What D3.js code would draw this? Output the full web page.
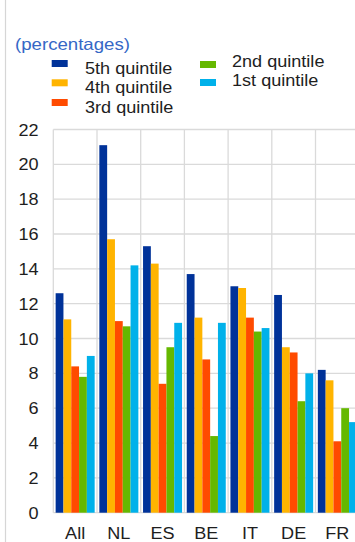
<!DOCTYPE html>
<html>
<head>
<meta charset="utf-8">
<script src="https://cdn.jsdelivr.net/npm/d3@7"></script>
<style>
  html, body { margin: 0; padding: 0; background: #ffffff; }
  svg { display: block; overflow: hidden; }
  text { font-family: "Liberation Sans", Arial, sans-serif; }
</style>
</head>
<body>
<svg id="chart" width="355" height="542"></svg>
<script>
// Countries on the x axis
const categories = ["All", "NL", "ES", "BE", "IT", "DE", "FR"];

// Income quintiles, drawn in this order inside each country group
const seriesNames = ["5th quintile", "4th quintile", "3rd quintile", "2nd quintile", "1st quintile"];
const seriesColors = ["#003299", "#FFB400", "#FF4B00", "#65B800", "#00B1EA"];

// Values per quintile (percentages), one per country
const q5 = [12.6, 21.1, 15.3, 13.7, 13.0, 12.5, 8.2];
const q4 = [11.1, 15.7, 14.3, 11.2, 12.9, 9.5, 7.6];
const q3 = [8.4, 11.0, 7.4, 8.8, 11.2, 9.2, 4.1];
const q2 = [7.8, 10.7, 9.5, 4.4, 10.4, 6.4, 6.0];
const q1 = [9.0, 14.2, 10.9, 10.9, 10.6, 8.0, 5.2];

const yTicks = [0, 2, 4, 6, 8, 10, 12, 14, 16, 18, 20, 22];

const seriesValues = [q5, q4, q3, q2, q1];
const rows = categories.map((c, i) => ({
  category: c,
  values: seriesNames.map((s, k) => ({ key: s, color: seriesColors[k], value: seriesValues[k][i] }))
}));

const svg = d3.select("#chart");
const textColor = "#1e1e1e";
const gridColor = "#dadada";
const sx = 1.13; // horizontal text stretch

// Draws a horizontally widened text label at (x, y)
function label(parent, x, y, str, opts = {}) {
  const g = parent.append("g")
    .attr("transform", `translate(${x},${y}) scale(${opts.sx || sx},1)`);
  g.append("text")
    .attr("x", 0).attr("y", 0)
    .attr("text-anchor", opts.anchor || "start")
    .attr("font-size", opts.size || 16)
    .attr("fill", opts.fill || textColor)
    .text(str);
  return g;
}

// Outer frame line on the left
svg.append("line")
  .attr("x1", 5.5).attr("x2", 5.5).attr("y1", 0).attr("y2", 542)
  .attr("stroke", "#d6d6d6").attr("stroke-width", 1.2);

// Units label
label(svg, 15, 49.7, "(percentages)", { fill: "#3567c6", size: 16.5 });

// Legend
const legendPos = [
  { sx: 51.7, sy: 60, tx: 85, ty: 74 },
  { sx: 51.7, sy: 79.3, tx: 85, ty: 93.3 },
  { sx: 51.7, sy: 99, tx: 85, ty: 112.7 },
  { sx: 200, sy: 61, tx: 232, ty: 66.5 },
  { sx: 200, sy: 79, tx: 232, ty: 85.5 }
];
const legend = svg.append("g").attr("class", "legend");
seriesNames.forEach((name, k) => {
  const p = legendPos[k];
  legend.append("rect")
    .attr("x", p.sx).attr("y", p.sy)
    .attr("width", 16).attr("height", 7)
    .attr("fill", seriesColors[k]);
  label(legend, p.tx, p.ty, name);
});

// Scales
const plotLeft = 53.3, plotRight = 359.2;
const y = d3.scaleLinear().domain([0, 22]).range([512.7, 129.5]);
const x0 = d3.scaleBand().domain(categories).range([plotLeft, plotRight]).paddingInner(0).paddingOuter(0);
const x1 = d3.scaleBand().domain(seriesNames).range([0, x0.bandwidth()]).paddingInner(0).paddingOuter(0.3);

// Horizontal gridlines
svg.append("g").selectAll("line.h")
  .data(yTicks)
  .join("line")
  .attr("x1", plotLeft).attr("x2", 355)
  .attr("y1", d => y(d)).attr("y2", d => y(d))
  .attr("stroke", gridColor).attr("stroke-width", 1.3);

// Vertical gridlines at category boundaries
const bounds = categories.map(c => x0(c)).concat([plotRight]);
svg.append("g").selectAll("line.v")
  .data(bounds)
  .join("line")
  .attr("x1", d => d).attr("x2", d => d)
  .attr("y1", y(22)).attr("y2", y(0))
  .attr("stroke", gridColor).attr("stroke-width", 1.3);

// Y tick labels
const yAxis = svg.append("g");
yTicks.forEach(t => label(yAxis, 38.5, y(t) + 6, String(t), { anchor: "end" }));

// Bars
const groups = svg.append("g").selectAll("g.grp")
  .data(rows)
  .join("g")
  .attr("transform", d => `translate(${x0(d.category)},0)`);
groups.selectAll("rect")
  .data(d => d.values)
  .join("rect")
  .attr("x", d => x1(d.key))
  .attr("width", x1.bandwidth())
  .attr("y", d => y(d.value))
  .attr("height", d => y(0) - y(d.value))
  .attr("fill", d => d.color);

// X labels
const xAxis = svg.append("g");
categories.forEach(c => label(xAxis, x0(c) + x0.bandwidth() / 2, 538.5, c, { anchor: "middle" }));
</script>
</body>
</html>
